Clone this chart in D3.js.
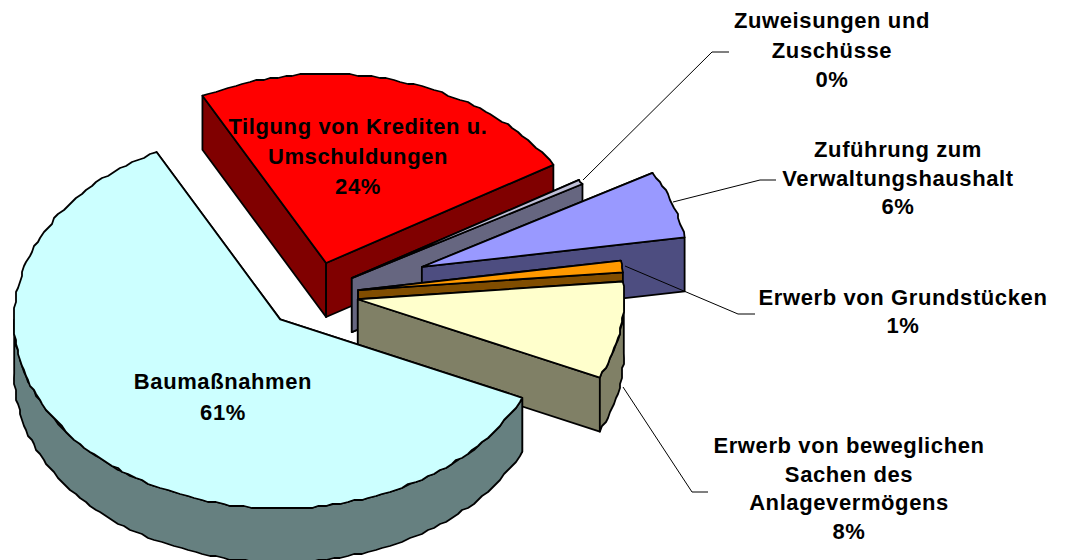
<!DOCTYPE html>
<html>
<head>
<meta charset="utf-8">
<script src="https://cdn.jsdelivr.net/npm/d3@7"></script>
<style>
  html, body { margin: 0; padding: 0; background: #fff; }
  text { font: bold 22px "Liberation Sans", Arial, sans-serif; letter-spacing: 0.6px; fill: #000; }
</style>
</head>
<body>
<div class="container"></div>
<script>
// data, clockwise from the red slice
var categories = ["Tilgung von Krediten u. Umschuldungen", "Zuweisungen und Zuschüsse", "Zuführung zum Verwaltungshaushalt", "Erwerb von Grundstücken", "Erwerb von beweglichen Sachen des Anlagevermögens", "Baumaßnahmen"];
var values = [24.0, 0.4, 5.8, 1.0, 8.3, 60.5];
var exploded = [0.17, 0.165, 0.43, 0.167, 0.167, 0.185];

var topColors = ["#ff0000", "#c0c0d8", "#9999ff", "#ff9900", "#ffffcc", "#ccffff"];
var sideColors = ["#800000", "#666680", "#4d4d80", "#804d00", "#808066", "#668080"];

// label text is split by hand the way the chart wraps it
var labelLines = [
    ["Tilgung von Krediten u.", "Umschuldungen"],
    ["Zuweisungen und", "Zuschüsse"],
    ["Zuführung zum", "Verwaltungshaushalt"],
    ["Erwerb von Grundstücken"],
    ["Erwerb von beweglichen", "Sachen des", "Anlagevermögens"],
    ["Baumaßnahmen"]
];

var width = 1067, height = 560;
var center = {x: 314, y: 294}, rx = 266, ry = 189, depth = 54;

var svg = d3.select(".container").append("svg")
    .attr("width", width)
    .attr("height", height)
    .style("display", "block");

var x = d3.scaleLinear().domain([-1, 1]).range([-rx, rx]);
var y = d3.scaleLinear().domain([-1, 1]).range([-ry, ry]);

var startAngle = -27.7 * Math.PI / 180;
var pie = d3.pie().sort(null).startAngle(startAngle).endAngle(startAngle + 2 * Math.PI);
var slices = pie(values);

var line = d3.line();

// the original renderer snaps its outlines to a coarse grid, which gives the wavy rim
function snap(v) { return Math.round(v / 2) * 2; }

slices.forEach(function(d, i) {
    var mid = (d.startAngle + d.endAngle) / 2;
    var ox = center.x + x(Math.sin(mid)) * exploded[i];
    var oy = center.y + y(-Math.cos(mid)) * exploded[i];

    function pt(a, drop) {
        return [ox + x(Math.sin(a)), oy + y(-Math.cos(a)) + (drop || 0)];
    }
    function arcPts(a0, a1, drop) {
        var n = Math.max(2, Math.ceil((a1 - a0) * 36));
        return d3.range(n + 1).map(function(k) {
            var p = pt(a0 + (a1 - a0) * k / n, drop);
            return (k == 0 || k == n) ? p : [snap(p[0]), snap(p[1])];
        });
    }

    var g = svg.append("g")
        .attr("stroke", "#000")
        .attr("stroke-width", 1.8)
        .attr("stroke-linejoin", "round");
    var apex = [ox, oy], apexLow = [ox, oy + depth];

    // flat cut walls
    [d.startAngle, d.endAngle].forEach(function(a) {
        g.append("path")
            .attr("d", line([apex, pt(a), pt(a, depth), apexLow]) + "Z")
            .attr("fill", sideColors[i]);
    });

    // outer wall, only the part facing the viewer
    var a0 = Math.max(d.startAngle, Math.PI / 2), a1 = Math.min(d.endAngle, 1.5 * Math.PI);
    if (a1 > a0) {
        g.append("path")
            .attr("d", line(arcPts(a0, a1).concat(arcPts(a0, a1, depth).reverse())) + "Z")
            .attr("fill", sideColors[i]);
    }

    // top face
    g.append("path")
        .attr("d", line([apex].concat(arcPts(d.startAngle, d.endAngle))) + "Z")
        .attr("fill", topColors[i]);
});

// leader lines
var leaders = [
    [[583, 180], [712, 52], [729, 52]],
    [[673, 202], [760, 180], [776, 180]],
    [[625, 266], [738, 314], [755, 314]],
    [[623, 387], [692, 492], [708, 492]]
];
svg.append("g").selectAll("path")
    .data(leaders)
    .join("path")
    .attr("d", function(d) { return line(d); })
    .attr("fill", "none")
    .attr("stroke", "#000")
    .attr("stroke-width", 1);

// labels: centre x and baseline of the first line, then line step
var labelPos = [
    {x: 358, y: 134, step: 30},
    {x: 832, y: 28, step: 29.5},
    {x: 898, y: 157, step: 28.5},
    {x: 903, y: 305, step: 28},
    {x: 849, y: 453, step: 28.5},
    {x: 223, y: 389, step: 31}
];
labelLines.forEach(function(lines, i) {
    var pct = d3.format(".0f")(values[i]) + "%";
    var t = svg.append("text")
        .attr("text-anchor", "middle")
        .attr("x", labelPos[i].x)
        .attr("y", labelPos[i].y);
    lines.concat([pct]).forEach(function(s, k) {
        t.append("tspan")
            .attr("x", labelPos[i].x)
            .attr("y", labelPos[i].y + k * labelPos[i].step)
            .text(s);
    });
});
</script>
</body>
</html>
